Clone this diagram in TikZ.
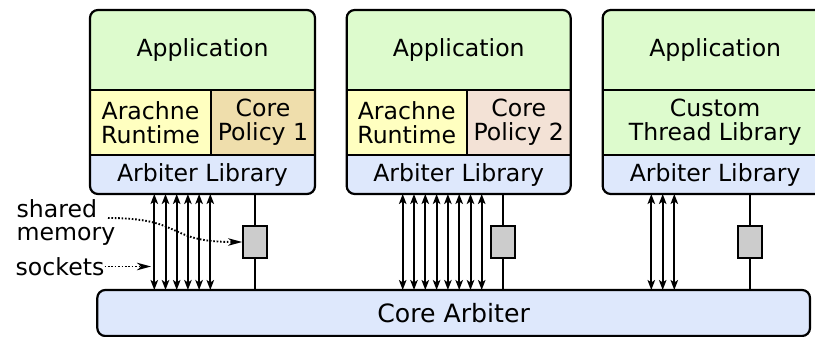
\documentclass[tikz,border=0pt]{standalone}
\usepackage{fontspec}
\setmainfont{DejaVu Sans}
\usetikzlibrary{arrows.meta}

\definecolor{appgreen}{RGB}{221,251,205}
\definecolor{rtyellow}{RGB}{255,255,192}
\definecolor{policytan}{RGB}{239,222,172}
\definecolor{policypink}{RGB}{243,226,214}
\definecolor{libblue}{RGB}{222,232,252}
\definecolor{shmgray}{RGB}{204,204,204}

\begin{document}
\begin{tikzpicture}[x=1pt,y=-1pt,
  layer/.style={rectangle, inner sep=0pt, outer sep=0pt, align=center,
    anchor=north west, font=\fontsize{23.6}{24}\selectfont},
  frame/.style={draw=black, line width=2.2pt, rounded corners=8pt},
  divider/.style={draw=black, line width=2.2pt},
  sock/.style={line width=2pt,
    {Stealth[length=10pt,width=7.5pt,inset=2.5pt]}-{Stealth[length=10pt,width=7.5pt,inset=2.5pt]}},
  shmline/.style={line width=1.7pt},
  shmbox/.style={rectangle, draw=black, line width=1.7pt, fill=shmgray,
    minimum width=24pt, minimum height=32pt, inner sep=0pt},
  hint/.style={line width=1.9pt, dash pattern=on 1.6pt off 1.8pt,
    -{Stealth[length=14pt,width=7.5pt,inset=4pt]}},
  label/.style={inner sep=0pt, font=\fontsize{23.6}{23}\selectfont}]

\useasboundingbox (0,0) rectangle (815,337);
\clip (0,0) rectangle (815,337);

% ---------- stack 1 ----------
\begin{scope}
  \clip[rounded corners=8pt] (90,10) rectangle (315,194);
  \node[layer, fill=appgreen, minimum width=225pt, minimum height=80pt] (app1) at (90,10) {Application};
  \node[layer, fill=rtyellow, minimum width=121pt, minimum height=65pt] (rt1) at (90,90) {Arachne\\Runtime};
  \node[layer, fill=policytan, minimum width=104pt, minimum height=65pt] (cp1) at (211,90) {Core\\Policy 1};
  \node[layer, fill=libblue, minimum width=225pt, minimum height=39pt] (lib1) at (90,155) {Arbiter Library};
\end{scope}
\draw[frame] (app1.north west) rectangle (lib1.south east);
\draw[divider] (app1.south west) -- (app1.south east);
\draw[divider] (lib1.north west) -- (lib1.north east);
\draw[divider] (cp1.north west) -- (cp1.south west);

% ---------- stack 2 ----------
\begin{scope}
  \clip[rounded corners=8pt] (346.7,10) rectangle (570.7,194);
  \node[layer, fill=appgreen, minimum width=224pt, minimum height=80pt] (app2) at (346.7,10) {Application};
  \node[layer, fill=rtyellow, minimum width=120pt, minimum height=65pt] (rt2) at (346.7,90) {Arachne\\Runtime};
  \node[layer, fill=policypink, minimum width=104pt, minimum height=65pt] (cp2) at (466.7,90) {Core\\Policy 2};
  \node[layer, fill=libblue, minimum width=224pt, minimum height=39pt] (lib2) at (346.7,155) {Arbiter Library};
\end{scope}
\draw[frame] (app2.north west) rectangle (lib2.south east);
\draw[divider] (app2.south west) -- (app2.south east);
\draw[divider] (lib2.north west) -- (lib2.north east);
\draw[divider] (cp2.north west) -- (cp2.south west);

% ---------- stack 3 ----------
\begin{scope}
  \clip[rounded corners=8pt] (602.7,10) rectangle (827.7,194);
  \node[layer, fill=appgreen, minimum width=225pt, minimum height=80pt] (app3) at (602.7,10) {Application};
  \node[layer, fill=appgreen, minimum width=225pt, minimum height=65pt] (ctl3) at (602.7,90) {Custom\\Thread Library};
  \node[layer, fill=libblue, minimum width=225pt, minimum height=39pt] (lib3) at (602.7,155) {Arbiter Library};
\end{scope}
\draw[frame] (app3.north west) rectangle (lib3.south east);
\draw[divider] (app3.south west) -- (app3.south east);
\draw[divider] (lib3.north west) -- (lib3.north east);

% ---------- core arbiter ----------
\node[layer, draw=black, line width=2.2pt, rounded corners=8pt, fill=libblue,
  minimum width=712.7pt, minimum height=46pt, font=\fontsize{25.2}{26}\selectfont]
  (core) at (97.3,290) {Core Arbiter};

% ---------- shared memory ----------
\node[shmbox] (shm1) at (255,242) {};
\node[shmbox] (shm2) at (502.7,242) {};
\node[shmbox] (shm3) at (750.3,242) {};
\foreach \i in {1,2,3} {
  \draw[shmline] (lib\i.south -| shm\i.north) -- (shm\i.north);
  \draw[shmline] (shm\i.south) -- (core.north -| shm\i.south);
}

% ---------- annotations (under the socket arrows) ----------
\node[label, align=left, anchor=north west] (smlab) at (16.5,199) {shared\\memory};
\node[label, anchor=east] (socklab) at (104.5,266.5) {sockets};
\coordinate (smfrom) at (108,218);
\coordinate (sockto) at (151,266.5);
\draw[hint] (smfrom) .. controls (185,218) and (165,242) .. (shm1.west);
\draw[hint] (socklab.east) -- (sockto);

% ---------- sockets ----------
\foreach \d in {64.3,75.5,86.7,97.9,109.1,120.3}
  \draw[sock] ([xshift=\d pt]lib1.south west) -- ([xshift=\d pt]lib1.south west |- core.north);
\foreach \d in {56,67.3,78.6,89.9,101.2,112.5,123.8,135}
  \draw[sock] ([xshift=\d pt]lib2.south west) -- ([xshift=\d pt]lib2.south west |- core.north);
\foreach \d in {48.6,60,71.6}
  \draw[sock] ([xshift=\d pt]lib3.south west) -- ([xshift=\d pt]lib3.south west |- core.north);

\end{tikzpicture}
\end{document}
